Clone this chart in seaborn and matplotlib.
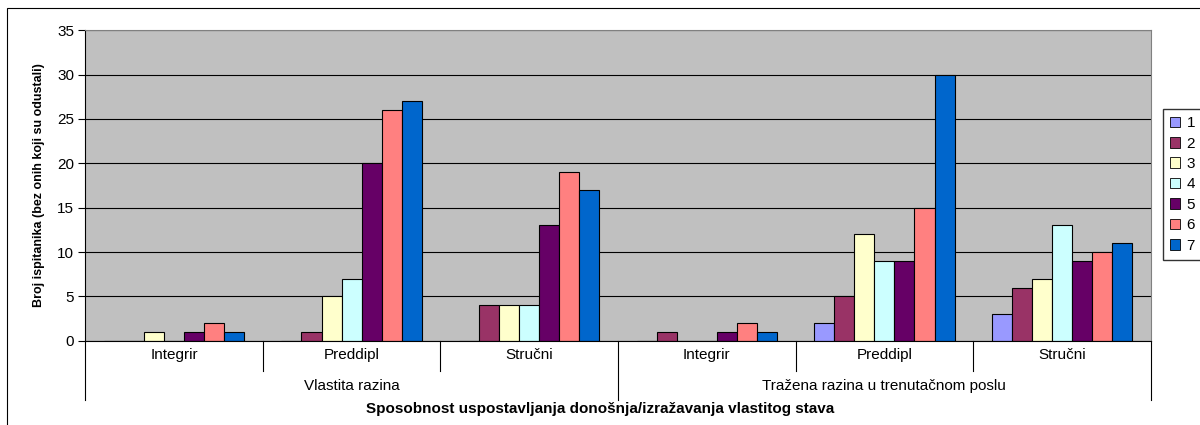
import numpy as np
import pandas as pd
import matplotlib
matplotlib.use("Agg")
import matplotlib.pyplot as plt
import matplotlib.transforms as mtransforms
from matplotlib.patches import Patch, Rectangle
import seaborn as sns

# Données
groupes = ["Vlastita razina", "Tražena razina u trenutačnom poslu"]
niveaux = ["Integrir", "Preddipl", "Stručni"]
serie_1 = [0, 0, 0, 0, 2, 3]
serie_2 = [0, 1, 4, 1, 5, 6]
serie_3 = [1, 5, 4, 0, 12, 7]
serie_4 = [0, 7, 4, 0, 9, 13]
serie_5 = [1, 20, 13, 1, 9, 9]
serie_6 = [2, 26, 19, 2, 15, 10]
serie_7 = [1, 27, 17, 1, 30, 11]
series = ["1", "2", "3", "4", "5", "6", "7"]
couleurs = ["#9999FF", "#993366", "#FFFFCC", "#CCFFFF", "#660066", "#FF8080", "#0066CC"]

categories = [g + "|" + n for g in groupes for n in niveaux]
valeurs = [serie_1, serie_2, serie_3, serie_4, serie_5, serie_6, serie_7]

rows = []
for s, vals in zip(series, valeurs):
    for c, v in zip(categories, vals):
        rows.append({"cat": c, "serie": s, "val": v})
df = pd.DataFrame(rows)

plt.rcParams["font.family"] = ["Liberation Sans", "DejaVu Sans"]
fs = 11

fig = plt.figure(figsize=(12, 4.25), dpi=100)
ax = fig.add_axes([0.071, 0.198, 0.888, 0.731])

sns.barplot(data=df, x="cat", y="val", hue="serie", order=categories,
            hue_order=series, palette=couleurs, width=0.79, saturation=1,
            edgecolor="black", linewidth=0.8, errorbar=None, legend=False, ax=ax)

ax.set_facecolor("#C0C0C0")
ax.set_ylim(0, 35)
ax.set_xlim(-0.5, len(categories) - 0.5)
ax.set_yticks(range(0, 36, 5))
ax.yaxis.grid(True, color="black", linewidth=0.8)
ax.set_axisbelow(True)
ax.tick_params(axis="y", labelsize=fs, length=5, direction="out", pad=3)
ax.tick_params(axis="x", length=0, labelbottom=False)
ax.set_xlabel("")
ax.set_ylabel("Broj ispitanika (bez onih koji su odustali)", fontsize=9, fontweight="bold")
ax.yaxis.set_label_coords(-0.038, 0.5)
for sp in ["left", "bottom"]:
    ax.spines[sp].set_color("black")
for sp in ["top", "right"]:
    ax.spines[sp].set_color("#808080")

# Axe des catégories à deux niveaux
trans = mtransforms.blended_transform_factory(ax.transData, ax.transAxes)
h1 = -0.097
h2 = -0.19
for i, c in enumerate(categories):
    ax.text(i, -0.045, c.split("|")[1], transform=trans, ha="center", va="center", fontsize=fs)
for i in range(len(categories) + 1):
    x = i - 0.5
    bas = h2 if i % 3 == 0 else h1
    ax.plot([x, x], [0, bas], transform=trans, color="black", linewidth=0.8, clip_on=False)
for j, g in enumerate(groupes):
    ax.text(3 * j + 1, -0.145, g, transform=trans, ha="center", va="center", fontsize=fs)

fig.text(0.5, 0.037, "Sposobnost uspostavljanja donošnja/izražavanja vlastitog stava",
         ha="center", va="center", fontsize=fs, fontweight="bold")

# Légende
handles = [Patch(facecolor=col, edgecolor="black", linewidth=0.6, label=s) for s, col in zip(series, couleurs)]
fig.legend(handles=handles, loc="center left", bbox_to_anchor=(0.969, 0.566), frameon=True,
           fancybox=False, edgecolor="black", fontsize=fs, handlelength=0.7, handleheight=0.7,
           handletextpad=0.4, labelspacing=0.42, borderpad=0.45, borderaxespad=0)

fig.patches.append(Rectangle((0.006, -0.05), 1.0, 1.031, transform=fig.transFigure,
                             fill=False, edgecolor="black", linewidth=0.8))

fig.savefig("out.png", dpi=100)
